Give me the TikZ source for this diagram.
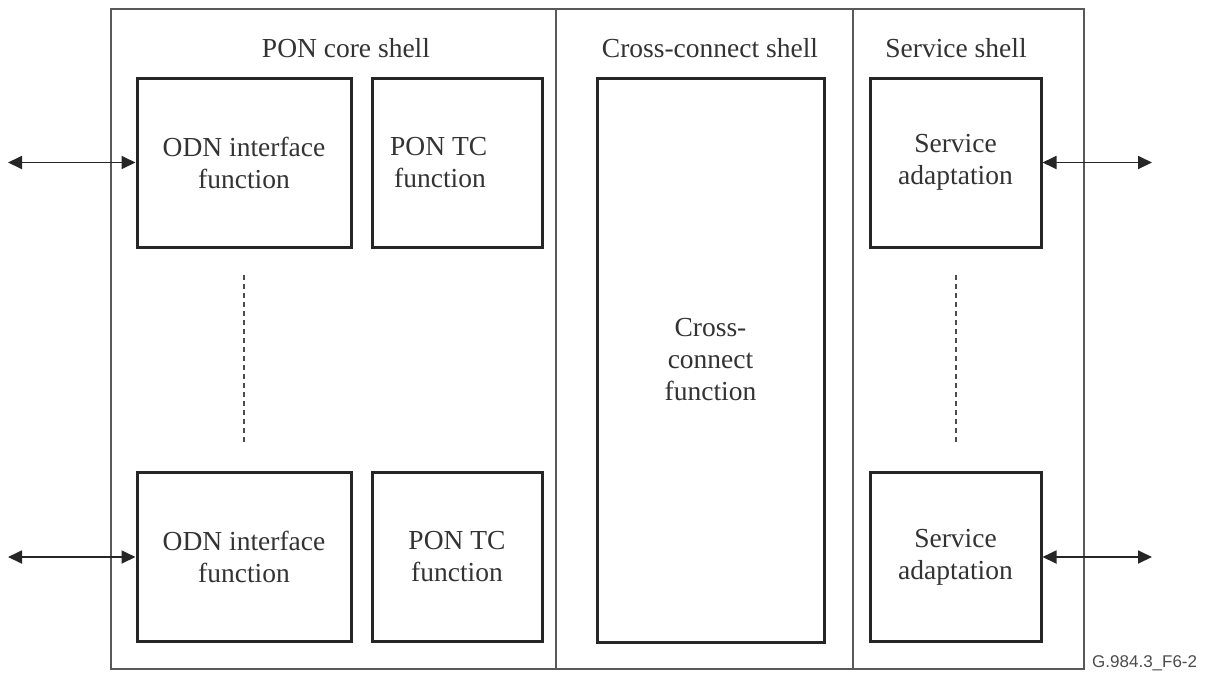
\documentclass[tikz,border=0pt]{standalone}
\usepackage{fontspec}
\setmainfont{Liberation Serif}
\newfontfamily\labelfont{Liberation Sans}
\usetikzlibrary{arrows.meta}
\begin{document}
\begin{tikzpicture}[x=1pt,y=-1pt,
  shellbox/.style={draw=black!65, line width=1.6pt, minimum height=660pt, inner sep=0pt, anchor=north west},
  shelltitle/.style={font=\fontsize{27.5}{32}\selectfont, text=black!80, inner sep=0pt},
  funcbox/.style={draw=black!85, line width=3pt, align=center, inner sep=0pt,
    font=\fontsize{27.5}{32}\selectfont, text=black!80},
  functext/.style={align=left, inner sep=0pt, font=\fontsize{27.5}{32}\selectfont, text=black!80},
  io/.style={{Triangle[length=14pt,width=13pt]}-{Triangle[length=14pt,width=13pt]}, line width=1.8pt, draw=black!85},
  dots/.style={dashed, dash pattern=on 5pt off 4pt, line width=1.2pt, draw=black!70}]
\useasboundingbox (0,0) rectangle (1212,675);
\fill[white] (0,0) rectangle (1212,675);
% shells
\node[shellbox, minimum width=445pt] (core) at (110,8) {};
\node[shellbox, minimum width=297pt] (xc) at (555,8) {};
\node[shellbox, minimum width=231pt] (svc) at (852,8) {};
\node[shelltitle] (tcore) at (346,48) {PON core shell};
\node[shelltitle] (txc) at (710,48) {Cross-connect shell};
\node[shelltitle] (tsvc) at (956,48) {Service shell};
% function boxes
\node[funcbox, minimum width=214pt, minimum height=169pt] (odn1) at (244,162.5) {ODN interface\\function};
\node[funcbox, minimum width=170pt, minimum height=169pt] (tc1) at (457,162.5) {};
\node[functext, anchor=west] (tc1t) at (390,162.5) {PON TC\\\hspace*{4pt}function};
\node[funcbox, minimum width=214pt, minimum height=169pt] (odn2) at (244,557) {ODN interface\\function};
\node[funcbox, minimum width=170pt, minimum height=169pt] (tc2) at (457,557) {PON TC\\function};
\node[funcbox, minimum width=227pt, minimum height=564pt] (xcf) at (710.5,360) {Cross-\\connect\\function};
\node[funcbox, minimum width=171pt, minimum height=169pt] (sa1) at (955.5,162.5) {Service\\adaptation};
\node[funcbox, minimum width=171pt, minimum height=169pt] (sa2) at (955.5,557) {Service\\adaptation};
% dashed continuation lines
\coordinate (d1a) at (244,275); \coordinate (d1b) at (244,445);
\coordinate (d2a) at (956,275); \coordinate (d2b) at (956,445);
\draw[dots] (d1a) -- (d1b);
\draw[dots] (d2a) -- (d2b);
% external interfaces
\coordinate (l1) at (8,162.5);
\coordinate (l2) at (8,557);
\coordinate (r1) at (1152,162.5);
\coordinate (r2) at (1152,557);
\draw[io] (l1) -- (odn1.west);
\draw[io] (l2) -- (odn2.west);
\draw[io] (sa1.east) -- (r1);
\draw[io] (sa2.east) -- (r2);
% figure id
\node[font=\labelfont\fontsize{17}{20}\selectfont, text=black!70, inner sep=0pt, anchor=west] (fid) at (1092,663) {G.984.3\_F6-2};
\end{tikzpicture}
\end{document}
